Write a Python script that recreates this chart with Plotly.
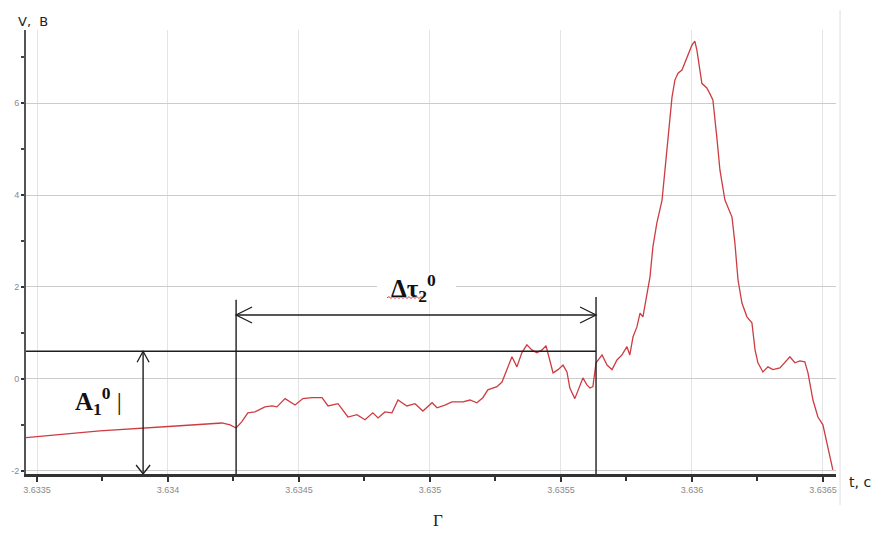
import plotly.graph_objects as go

# Oscillogram: signal voltage V (volts) against time t (seconds)
t_s = [
    3.633458, 3.633740, 3.634046, 3.634206, 3.634237, 3.634260, 3.634282, 3.634305, 3.634332, 3.634370,
    3.634397, 3.634416, 3.634447, 3.634485, 3.634515, 3.634550, 3.634588, 3.634611, 3.634649, 3.634687,
    3.634721, 3.634752, 3.634782, 3.634802, 3.634828, 3.634855, 3.634878, 3.634912, 3.634943, 3.634973,
    3.635008, 3.635027, 3.635057, 3.635084, 3.635126, 3.635153, 3.635179, 3.635202, 3.635221, 3.635256,
    3.635275, 3.635294, 3.635313, 3.635332, 3.635351, 3.635370, 3.635389, 3.635408, 3.635428, 3.635443,
    3.635458, 3.635470, 3.635489, 3.635508, 3.635523, 3.635534, 3.635553, 3.635569, 3.635584, 3.635599,
    3.635611, 3.635622, 3.635634, 3.635657, 3.635676, 3.635695, 3.635714, 3.635733, 3.635752, 3.635763,
    3.635775, 3.635790, 3.635802, 3.635813, 3.635828, 3.635840, 3.635851, 3.635866, 3.635886, 3.635897,
    3.635908, 3.635924, 3.635935, 3.635947, 3.635962, 3.635973, 3.635985, 3.636000, 3.636011, 3.636019,
    3.636038, 3.636057, 3.636069, 3.636080, 3.636095, 3.636107, 3.636126, 3.636153, 3.636164, 3.636176,
    3.636191, 3.636210, 3.636229, 3.636241, 3.636252, 3.636271, 3.636290, 3.636309, 3.636336, 3.636355,
    3.636374, 3.636393, 3.636412, 3.636431, 3.636443, 3.636462, 3.636481, 3.636500, 3.636519, 3.636538,
]
v_volts = [
    -1.28, -1.13, -1.02, -0.96, -1.00, -1.07, -0.93, -0.74, -0.72, -0.61,
    -0.59, -0.61, -0.43, -0.57, -0.43, -0.41, -0.41, -0.59, -0.54, -0.83,
    -0.78, -0.89, -0.74, -0.85, -0.72, -0.74, -0.46, -0.59, -0.54, -0.70,
    -0.52, -0.63, -0.57, -0.50, -0.50, -0.46, -0.52, -0.41, -0.24, -0.17,
    -0.07, 0.20, 0.48, 0.26, 0.57, 0.74, 0.63, 0.57, 0.63, 0.72,
    0.37, 0.13, 0.20, 0.30, 0.15, -0.20, -0.43, -0.20, 0.02, -0.13,
    -0.20, -0.17, 0.35, 0.52, 0.30, 0.20, 0.41, 0.52, 0.70, 0.52,
    0.91, 1.13, 1.43, 1.35, 1.87, 2.22, 2.87, 3.39, 3.89, 4.54,
    5.26, 6.13, 6.50, 6.65, 6.72, 6.87, 7.04, 7.26, 7.35, 7.15,
    6.43, 6.33, 6.20, 6.07, 5.26, 4.54, 3.89, 3.52, 2.96, 2.15,
    1.65, 1.35, 1.22, 0.63, 0.35, 0.15, 0.26, 0.20, 0.24, 0.35,
    0.48, 0.35, 0.39, 0.37, 0.13, -0.46, -0.83, -1.00, -1.48, -1.98,
]
assert len(t_s) == len(v_volts)

x_ticks = [3.6335, 3.634, 3.6345, 3.635, 3.6355, 3.636, 3.6365]
x_tick_text = ["3.6335", "3.634", "3.6345", "3.635", "3.6355", "3.636", "3.6365"]
y_ticks = [-2, 0, 2, 4, 6]
y_tick_text = ["-2", "0", "2", "4", "6"]

X_RANGE = [3.633458, 3.636550]
Y_RANGE = [-2.07, 7.59]

# Measurement markup: amplitude A1 and interval delta-tau2
amp_level = 0.60
amp_t = 3.633905
tau_t0 = 3.634260
tau_t1 = 3.635634
tau_arrow_v = 1.39
tau_tops = [1.72, 1.78]

INK = "#1e1e1e"
fig = go.Figure()
fig.add_trace(go.Scatter(
    x=t_s, y=v_volts, mode="lines",
    line=dict(color="#cc3d42", width=1.3),
    hoverinfo="skip",
))

def seg(x0, y0, x1, y1, width=1.4):
    fig.add_shape(type="line", xref="x", yref="y", x0=x0, y0=y0, x1=x1, y1=y1,
                  line=dict(color=INK, width=width), layer="above")

def pix_path(xa, ya, path, color=INK, width=1.3, fill=None):
    kw = dict(type="path", xref="x", yref="y", xsizemode="pixel", ysizemode="pixel",
              xanchor=xa, yanchor=ya, path=path, layer="above",
              line=dict(color=color, width=width))
    if fill:
        kw["fillcolor"] = fill
    fig.add_shape(**kw)

# amplitude reference level and its double arrow
seg(X_RANGE[0], amp_level, tau_t1, amp_level)
seg(amp_t, Y_RANGE[0], amp_t, amp_level)
pix_path(amp_t, amp_level, "M-6,-11 L0,0 L6,-11")
pix_path(amp_t, Y_RANGE[0], "M-7,9 L0,0 L7,9")

# interval boundaries and the double arrow between them
seg(tau_t0, Y_RANGE[0], tau_t0, tau_tops[0])
seg(tau_t1, Y_RANGE[0], tau_t1, tau_tops[1])
seg(tau_t0, tau_arrow_v, tau_t1, tau_arrow_v)
pix_path(tau_t0, tau_arrow_v, "M16,8 L0,0 L16,-8")
pix_path(tau_t1, tau_arrow_v, "M-16,8 L0,0 L-16,-8")

# label of the interval: white patch, wavy underline, then the text
tau_label_t = 3.634939
tau_label_v = 1.98
pix_path(tau_label_t, tau_label_v, "M-37,-13 L42,-13 L42,15 L-37,15 Z",
         color="white", width=0, fill="white")
wave = "M-27,-10"
for i in range(1, 19):
    wave += " L%d,%s" % (-27 + 2 * i, "-8.8" if i % 2 else "-10.6")
pix_path(tau_label_t, tau_label_v, wave, color="#e03a3a", width=1)
fig.add_annotation(x=tau_label_t, y=tau_label_v, xref="x", yref="y",
                   text="<b>Δτ<sub>2</sub><sup>0</sup></b>", showarrow=False,
                   font=dict(family="Liberation Serif", size=25, color="#111"))

fig.add_annotation(x=3.633735, y=-0.48, xref="x", yref="y",
                   text="<b>A<sub>1</sub><sup>0</sup></b> |", showarrow=False,
                   font=dict(family="Liberation Serif", size=25, color="#111"))

# axis titles and caption
W, H = 879, 533
ML, MR, MT, MB = 26, 43, 30, 59
pw, ph = W - ML - MR, H - MT - MB

def px_x(p):
    return (p - ML) / pw

def px_y(p):
    return (H - MB - p) / ph

for txt, cx, cy, fam, size in [
    ("V,  B", 33, 22, "DejaVu Sans", 13),
    ("t, c", 860, 482, "DejaVu Sans", 14),
    ("Г", 438, 520, "Liberation Serif", 17),
]:
    fig.add_annotation(text=txt, xref="paper", yref="paper", x=px_x(cx), y=px_y(cy),
                       xanchor="center", yanchor="middle", showarrow=False,
                       font=dict(family=fam, size=size, color="#222"))

# thin right-hand frame line
fig.add_shape(type="line", xref="paper", yref="paper", x0=1.005, x1=1.005, y0=-0.07, y1=1.045,
              line=dict(color="#dedede", width=1), layer="below")

fig.update_layout(
    width=W, height=H,
    margin=dict(l=ML, r=MR, t=MT, b=MB),
    paper_bgcolor="white", plot_bgcolor="white",
    showlegend=False,
    xaxis=dict(
        range=X_RANGE, tickvals=x_ticks, ticktext=x_tick_text,
        showgrid=True, gridcolor="#e4e4e4", gridwidth=1,
        showline=True, linecolor="#333", linewidth=2.5,
        ticks="outside", ticklen=5, tickwidth=1.5, tickcolor="#333",
        minor=dict(dtick=0.00025, tick0=3.6335, ticks="outside", ticklen=4,
                   tickwidth=1.5, tickcolor="#333", showgrid=False),
        tickfont=dict(family="Liberation Sans Narrow, Arial Narrow, Liberation Sans", size=9, color="#8a8a8a"),
        zeroline=False, fixedrange=True,
    ),
    yaxis=dict(
        range=Y_RANGE, tickvals=y_ticks, ticktext=y_tick_text,
        showgrid=True, gridcolor="#cccccc", gridwidth=1,
        showline=True, linecolor="#555", linewidth=2,
        ticks="outside", ticklen=3, tickwidth=2, tickcolor="#333",
        minor=dict(dtick=1, tick0=0, ticks="outside", ticklen=3, tickwidth=2,
                   tickcolor="#444", showgrid=False),
        tickfont=dict(family="Liberation Sans Narrow, Arial Narrow, Liberation Sans", size=9, color="#8a8a8a"),
        zeroline=False, fixedrange=True,
    ),
)

fig.write_html("out.html")
